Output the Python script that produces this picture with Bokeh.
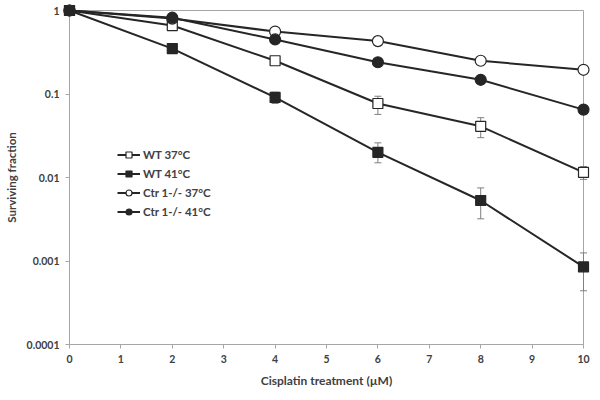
from bokeh.plotting import figure
from bokeh.models import FixedTicker, CustomJSTickFormatter, Legend, LegendItem, Range1d
from bokeh.embed import file_html
from bokeh.resources import INLINE

# ---- data ----
dose = [0, 2, 4, 6, 8, 10]
wt37 = [1.0, 0.66, 0.25, 0.077, 0.041, 0.0115]
wt41 = [1.0, 0.35, 0.091, 0.020, 0.0053, 0.00085]
ctr37 = [1.0, 0.80, 0.56, 0.43, 0.25, 0.195]
ctr41 = [1.0, 0.82, 0.45, 0.24, 0.148, 0.065]

err_dose_wt37 = [6, 8, 10]
wt37_lo = [0.057, 0.030, 0.0095]
wt37_hi = [0.094, 0.052, 0.0135]
err_dose_wt41 = [2, 4, 6, 8, 10]
wt41_lo = [0.31, 0.077, 0.015, 0.0032, 0.00044]
wt41_hi = [0.39, 0.105, 0.026, 0.0075, 0.00125]

x_ticks = [0, 1, 2, 3, 4, 5, 6, 7, 8, 9, 10]
y_ticks = [0.0001, 0.001, 0.01, 0.1, 1]
y_tick_labels = ["0.0001", "0.001", "0.01", "0.1", "1"]

labels = ["WT 37°C", "WT 41°C", "Ctr 1-/- 37°C", "Ctr 1-/- 41°C"]

TXT = "#404040"
LINE = "#262626"
GRAYAX = "#a6a6a6"
FONT = "Lato"

p = figure(frame_width=514, frame_height=334,
           min_border_left=69, min_border_right=15, min_border_top=10, min_border_bottom=54,
           x_range=Range1d(0, 10), y_range=Range1d(1e-4, 1), y_axis_type="log",
           output_backend="svg", toolbar_location=None)

p.xgrid.visible = False
p.ygrid.visible = False
p.outline_line_color = GRAYAX
p.outline_line_width = 1

p.xaxis.ticker = FixedTicker(ticks=x_ticks)
p.yaxis.ticker = FixedTicker(ticks=y_ticks)
p.yaxis.formatter = CustomJSTickFormatter(args=dict(tvals=y_ticks, tlabels=y_tick_labels), code="""
    let best = -1, bd = 1e9;
    for (let k = 0; k < tvals.length; k++) {
        const d = Math.abs(Math.log10(tvals[k]) - Math.log10(tick));
        if (d < bd) { bd = d; best = k; }
    }
    return (best >= 0 && bd < 1e-6) ? tlabels[best] : '';
""")
for ax in (p.xaxis, p.yaxis):
    ax.axis_line_color = GRAYAX
    ax.major_tick_line_color = GRAYAX
    ax.major_tick_in = 0
    ax.major_tick_out = 4
    ax.minor_tick_line_color = None
    ax.major_label_text_font = FONT
    ax.major_label_text_font_style = "bold"
    ax.major_label_text_font_size = "10.5px"
    ax.major_label_text_color = TXT
    ax.axis_label_text_font = FONT
    ax.axis_label_text_font_style = "bold"
    ax.axis_label_text_color = TXT
p.xaxis.axis_label_text_font_size = "12px"
p.yaxis.axis_label_text_font_size = "11.5px"
p.xaxis.major_label_standoff = 6
p.yaxis.major_label_standoff = 6
p.xaxis.axis_label = "Cisplatin treatment (µM)"
p.yaxis.axis_label = "Surviving fraction"
p.xaxis.axis_label_standoff = 7
p.yaxis.axis_label_standoff = 6

series = [
    (wt37, "square", "white"),
    (wt41, "square", LINE),
    (ctr37, "circle", "white"),
    (ctr41, "circle", LINE),
]

line_rs = []
for ys, m, fill in series:
    line_rs.append(p.line(dose, ys, line_color=LINE, line_width=2, level="overlay"))

# error bars
for xs, lo, hi in [(err_dose_wt37, wt37_lo, wt37_hi), (err_dose_wt41, wt41_lo, wt41_hi)]:
    p.segment(x0=xs, y0=lo, x1=xs, y1=hi, line_color="#7f7f7f", line_width=1, level="overlay")
    p.scatter(xs, lo, marker="dash", size=7, line_color="#7f7f7f", line_width=1, level="overlay")
    p.scatter(xs, hi, marker="dash", size=7, line_color="#7f7f7f", line_width=1, level="overlay")

mark_rs = []
for ys, m, fill in series:
    size = 10 if m == "square" else 11
    mark_rs.append(p.scatter(dose, ys, marker=m, size=size, fill_color=fill,
                             line_color=LINE, line_width=1.2, level="overlay"))

legend = Legend(items=[LegendItem(label=l, renderers=[lr, mr]) for l, lr, mr in zip(labels, line_rs, mark_rs)],
                location=(48, 125), orientation="vertical")
legend.background_fill_alpha = 0
legend.border_line_color = None
legend.padding = 0
legend.margin = 0
legend.spacing = 4
legend.glyph_width = 23
legend.glyph_height = 15
legend.label_height = 15
legend.label_standoff = 3
legend.label_text_font = FONT
legend.label_text_font_style = "bold"
legend.label_text_font_size = "11.5px"
legend.label_text_color = TXT
p.add_layout(legend)

open("out.html", "w").write(file_html(p, INLINE))
